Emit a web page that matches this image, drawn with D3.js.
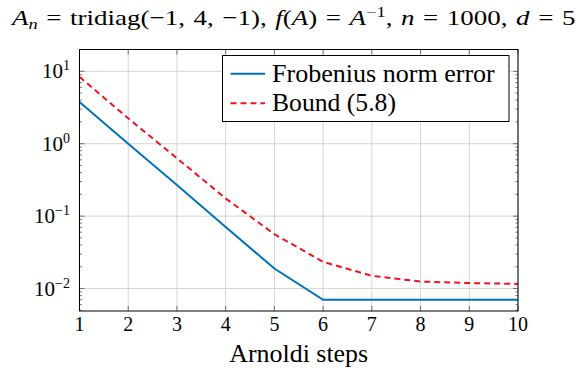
<!DOCTYPE html>
<html lang="en">
<head>
<meta charset="utf-8"/>
<title>Arnoldi error</title>
<script src="https://d3js.org/d3.v7.min.js"></script>
<style>
  body { margin: 0; background: #fff; }
  .grid line { stroke: #d4d4d4; stroke-width: 1; }
</style>
</head>
<body>
<div id="chart"></div>
<script>
// data
var steps = [1, 2, 3, 4, 5, 6, 7, 8, 9, 10];
var frobError = [3.77, 1.0, 0.27, 0.071, 0.0189, 0.0070, 0.0070, 0.0070, 0.0070, 0.0070];
var bound = [8.4, 2.24, 0.63, 0.176, 0.0564, 0.0234, 0.0150, 0.0125, 0.0119, 0.0116];
var yTicks = [0.01, 0.1, 1, 10];
var yTickExp = ["\u22122", "\u22121", "0", "1"];
var seriesNames = ["Frobenius norm error", "Bound (5.8)"];

var width = 584, height = 371;
var m = {top: 49.5, right: 66, bottom: 60, left: 79.5};
var serif = "'Liberation Serif', 'DejaVu Serif', 'Times New Roman', Times, serif";

var svg = d3.select("#chart").append("svg")
  .attr("width", width)
  .attr("height", height)
  .attr("font-family", serif);

// put a text at (px, py) and scale it so it is w pixels wide
// (keepHeight: stretch only horizontally)
function fitText(g, px, py, w, anchor, keepHeight) {
  var t = g.select("text");
  var bw = t.node().getBBox().width;
  var k = w / bw;
  var dx = anchor === "middle" ? -w / 2 : 0;
  g.attr("transform", "translate(" + (px + dx) + "," + py + ") scale(" + k + "," + (keepHeight ? 1 : k) + ")");
}

var x = d3.scaleLinear()
  .domain([1, 10])
  .range([m.left, width - m.right]);

var y = d3.scaleLog()
  .domain([0.0049, 20])
  .range([height - m.bottom, m.top]);

// grid
var grid = svg.append("g").attr("class", "grid");
grid.selectAll(".gx").data(steps).enter().append("line")
  .attr("x1", function(d) { return x(d); })
  .attr("x2", function(d) { return x(d); })
  .attr("y1", m.top).attr("y2", height - m.bottom);
grid.selectAll(".gy").data(yTicks).enter().append("line")
  .attr("y1", function(d) { return y(d); })
  .attr("y2", function(d) { return y(d); })
  .attr("x1", m.left).attr("x2", width - m.right);

// minor ticks on the log axis (inside, both sides)
var minor = [];
[0.001, 0.01, 0.1, 1, 10].forEach(function(dec) {
  for (var k = 2; k <= 9; k++) {
    var v = dec * k;
    if (v > y.domain()[0] && v < y.domain()[1]) minor.push(v);
  }
});
var ticks = svg.append("g").attr("stroke", "#555").attr("stroke-width", 0.8);
minor.forEach(function(v) {
  ticks.append("line").attr("x1", m.left).attr("x2", m.left + 2.5)
    .attr("y1", y(v)).attr("y2", y(v));
  ticks.append("line").attr("x1", width - m.right).attr("x2", width - m.right - 2.5)
    .attr("y1", y(v)).attr("y2", y(v));
});
yTicks.forEach(function(v) {
  ticks.append("line").attr("x1", m.left).attr("x2", m.left + 5)
    .attr("y1", y(v)).attr("y2", y(v));
  ticks.append("line").attr("x1", width - m.right).attr("x2", width - m.right - 5)
    .attr("y1", y(v)).attr("y2", y(v));
});
steps.forEach(function(v) {
  ticks.append("line").attr("x1", x(v)).attr("x2", x(v))
    .attr("y1", height - m.bottom).attr("y2", height - m.bottom - 5);
  ticks.append("line").attr("x1", x(v)).attr("x2", x(v))
    .attr("y1", m.top).attr("y2", m.top + 5);
});

// lines
var line = function(vals) {
  return d3.line()
    .x(function(d, i) { return x(steps[i]); })
    .y(function(d) { return y(d); })(vals);
};

svg.append("path")
  .attr("d", line(bound))
  .attr("fill", "none")
  .attr("stroke", "#f0141e")
  .attr("stroke-width", 2)
  .attr("stroke-dasharray", "6,4");

svg.append("path")
  .attr("d", line(frobError))
  .attr("fill", "none")
  .attr("stroke", "#0072bd")
  .attr("stroke-width", 2);

// frame
svg.append("rect")
  .attr("x", m.left).attr("y", m.top)
  .attr("width", width - m.right - m.left)
  .attr("height", height - m.bottom - m.top)
  .attr("fill", "none")
  .attr("stroke", "#000")
  .attr("stroke-width", 1);

// x tick labels
svg.append("g").selectAll("text").data(steps).enter().append("text")
  .attr("x", function(d) { return x(d); })
  .attr("y", 330.5)
  .attr("text-anchor", "middle")
  .attr("font-size", 20)
  .text(function(d) { return d; });

// y tick labels 10^k
var yl = svg.append("g").selectAll("text").data(yTicks).enter().append("text")
  .attr("x", 70)
  .attr("y", function(d) { return y(d) + 7; })
  .attr("text-anchor", "end")
  .attr("font-size", 21);
yl.append("tspan").text("10");
yl.append("tspan")
  .attr("dy", -8)
  .attr("font-size", 14)
  .text(function(d, i) { return yTickExp[i]; });

// axis label
var xl = svg.append("g");
xl.append("text").attr("font-size", 24).text("Arnoldi steps");
fitText(xl, (m.left + width - m.right) / 2, 362, 139, "middle");

// title
var tg = svg.append("g");
var title = tg.append("text").attr("font-size", 22).attr("word-spacing", 1.5);
title.append("tspan").attr("font-style", "italic").text("A");
title.append("tspan").attr("font-style", "italic").attr("font-size", 15).attr("dy", 4).text("n");
title.append("tspan").attr("dy", -4).text(" = tridiag(\u22121, 4, \u22121), ");
title.append("tspan").attr("font-style", "italic").text("f");
title.append("tspan").text("(");
title.append("tspan").attr("font-style", "italic").text("A");
title.append("tspan").text(") = ");
title.append("tspan").attr("font-style", "italic").text("A");
title.append("tspan").attr("font-size", 15).attr("dy", -8).text("\u22121");
title.append("tspan").attr("dy", 8).text(", ");
title.append("tspan").attr("font-style", "italic").text("n");
title.append("tspan").text(" = 1000, ");
title.append("tspan").attr("font-style", "italic").text("d");
title.append("tspan").text(" = 5");
fitText(tg, 12, 25, 566, "start", true);

// legend
var lg = svg.append("g");
lg.append("rect")
  .attr("x", 222.5).attr("y", 55.5)
  .attr("width", 286.5).attr("height", 66)
  .attr("fill", "#fff")
  .attr("stroke", "#000")
  .attr("stroke-width", 1);
var rows = [
  {name: seriesNames[0], color: "#0072bd", dash: null, cy: 73.7, len: 223},
  {name: seriesNames[1], color: "#f0141e", dash: "6,4", cy: 103.3, len: 124}
];
rows.forEach(function(r) {
  lg.append("line")
    .attr("x1", 230.5).attr("x2", 265)
    .attr("y1", r.cy).attr("y2", r.cy)
    .attr("stroke", r.color)
    .attr("stroke-width", 2)
    .attr("stroke-dasharray", r.dash);
  var g = lg.append("g");
  g.append("text").attr("font-size", 24).text(r.name);
  fitText(g, 272, r.cy + 8, r.len, "start");
});
</script>
</body>
</html>
